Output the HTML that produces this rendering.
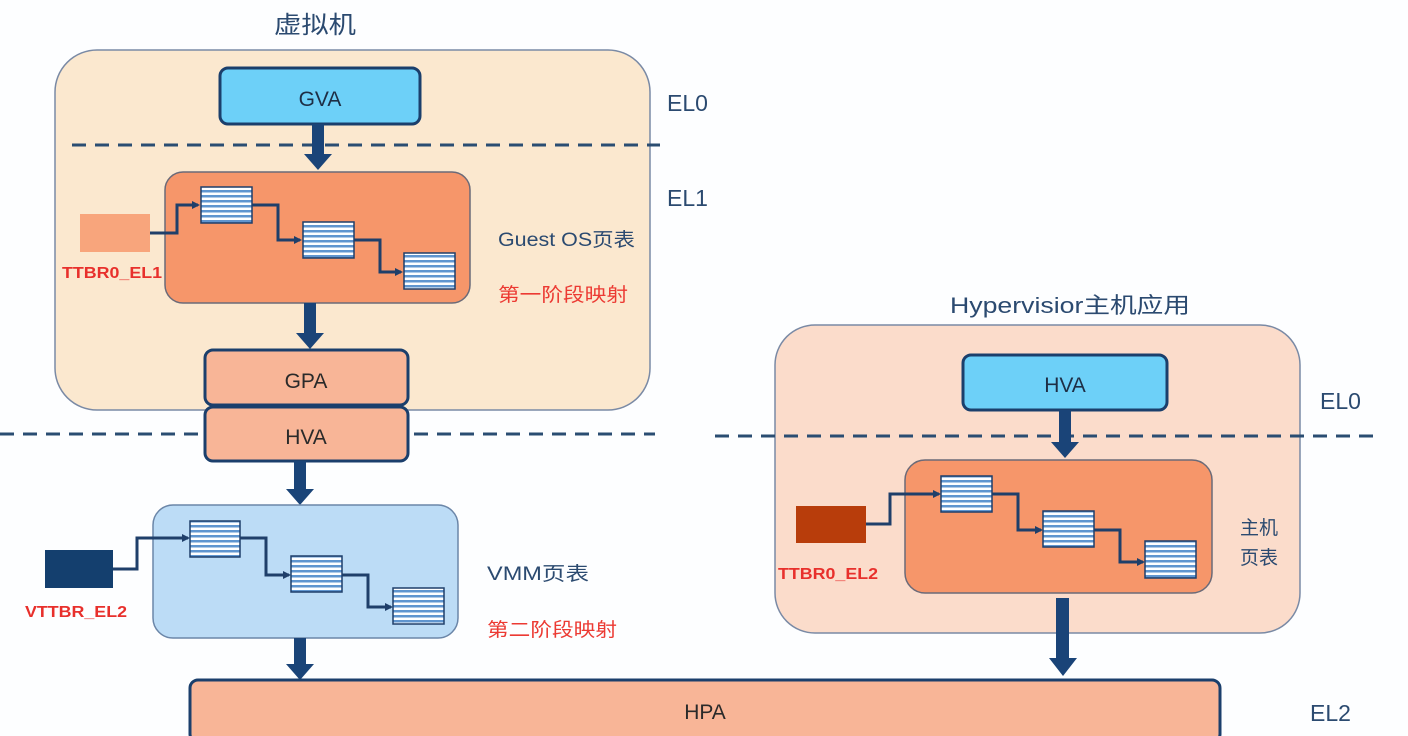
<!DOCTYPE html>
<html><head><meta charset="utf-8"><style>
body{margin:0;background:#fff;}
svg{display:block;}
text{font-family:"Liberation Sans","Noto Sans CJK SC",sans-serif;}
</style></head><body>
<svg width="1408" height="736" viewBox="0 0 1408 736" xmlns="http://www.w3.org/2000/svg">
<defs>
<pattern id="st" width="10" height="5" patternUnits="userSpaceOnUse">
<rect width="10" height="5" fill="#fff"/><rect y="0" width="10" height="2.5" fill="#5f95cf"/>
</pattern>
<marker id="ah" markerWidth="8" markerHeight="8" refX="6" refY="4" orient="auto" markerUnits="userSpaceOnUse"><path d="M0,0 L8,4 L0,8 z" fill="#1f3f6a"/></marker>
</defs>
<rect width="1408" height="736" fill="#fdfeff"/>

<!-- Guest VM -->
<text x="274" y="33" font-size="24" fill="#2b4a70" textLength="82" lengthAdjust="spacingAndGlyphs">虚拟机</text>
<rect x="55" y="50" width="595" height="360" rx="42" fill="#fbe8cf" stroke="#7a8aa5" stroke-width="1.5"/>
<rect x="220" y="68" width="200" height="56" rx="8" fill="#6dd0f8" stroke="#1b3f6c" stroke-width="3"/>
<text x="320" y="106" font-size="21" fill="#1e2e45" text-anchor="middle">GVA</text>
<line x1="72" y1="145" x2="660" y2="145" stroke="#2a4d72" stroke-width="3" stroke-dasharray="14,9"/>
<text x="667" y="111" font-size="23" fill="#2b4a70">EL0</text>
<text x="667" y="206" font-size="23" fill="#2b4a70">EL1</text>
<path d="M312,124 h12 v30 h8 l-14,16 l-14,-16 h8z" fill="#1a4478"/>
<rect x="165" y="172" width="305" height="131" rx="18" fill="#f6966a" stroke="#6b6a78" stroke-width="1.5"/>
<rect x="80" y="214" width="70" height="38" fill="#f8a57c"/>
<text x="62" y="278" font-size="16" font-weight="bold" fill="#e8302c" textLength="100" lengthAdjust="spacingAndGlyphs">TTBR0_EL1</text>
<path d="M150,233 H177 V205 H198" fill="none" stroke="#1f3f6a" stroke-width="3" marker-end="url(#ah)"/>
<path d="M252,205 H278 V240 H300" fill="none" stroke="#1f3f6a" stroke-width="3" marker-end="url(#ah)"/>
<path d="M354,240 H380 V272 H401" fill="none" stroke="#1f3f6a" stroke-width="3" marker-end="url(#ah)"/>
<rect x="201" y="187" width="51" height="36" fill="url(#st)" stroke="#1f3f6a" stroke-width="1.5"/>
<rect x="303" y="222" width="51" height="36" fill="url(#st)" stroke="#1f3f6a" stroke-width="1.5"/>
<rect x="404" y="253" width="51" height="36" fill="url(#st)" stroke="#1f3f6a" stroke-width="1.5"/>
<text x="498" y="246" font-size="19" fill="#2b4a70" textLength="137" lengthAdjust="spacingAndGlyphs">Guest OS页表</text>
<text x="498" y="301" font-size="19" fill="#ec3a33" textLength="130" lengthAdjust="spacingAndGlyphs">第一阶段映射</text>
<path d="M304,303 h12 v30 h8 l-14,16 l-14,-16 h8z" fill="#1a4478"/>

<!-- left dashed -->
<line x1="0" y1="434" x2="655" y2="434" stroke="#2a4d72" stroke-width="3" stroke-dasharray="14,9"/>

<rect x="205" y="350" width="203" height="55" rx="8" fill="#f8b597" stroke="#1b3f6c" stroke-width="3"/>
<text x="306" y="388" font-size="21" fill="#2a2a2a" text-anchor="middle">GPA</text>
<rect x="205" y="407" width="203" height="54" rx="8" fill="#f8b597" stroke="#1b3f6c" stroke-width="3"/>
<text x="306" y="444" font-size="21" fill="#2a2a2a" text-anchor="middle">HVA</text>
<path d="M294,461 h12 v28 h8 l-14,16 l-14,-16 h8z" fill="#1a4478"/>

<!-- VMM -->
<rect x="153" y="505" width="305" height="133" rx="20" fill="#bcdcf6" stroke="#6b86a8" stroke-width="1.5"/>
<rect x="45" y="550" width="68" height="38" fill="#143f6e"/>
<text x="25" y="617" font-size="16" font-weight="bold" fill="#e8302c" textLength="102" lengthAdjust="spacingAndGlyphs">VTTBR_EL2</text>
<path d="M113,569 H137 V538 H188" fill="none" stroke="#1f3f6a" stroke-width="3" marker-end="url(#ah)"/>
<path d="M240,538 H266 V575 H289" fill="none" stroke="#1f3f6a" stroke-width="3" marker-end="url(#ah)"/>
<path d="M342,575 H368 V607 H391" fill="none" stroke="#1f3f6a" stroke-width="3" marker-end="url(#ah)"/>
<rect x="190" y="521" width="50" height="36" fill="url(#st)" stroke="#1f3f6a" stroke-width="1.5"/>
<rect x="291" y="556" width="51" height="36" fill="url(#st)" stroke="#1f3f6a" stroke-width="1.5"/>
<rect x="393" y="588" width="51" height="36" fill="url(#st)" stroke="#1f3f6a" stroke-width="1.5"/>
<text x="487" y="580" font-size="19" fill="#2b4a70" textLength="102" lengthAdjust="spacingAndGlyphs">VMM页表</text>
<text x="487" y="636" font-size="19" fill="#ec3a33" textLength="130" lengthAdjust="spacingAndGlyphs">第二阶段映射</text>
<path d="M294,638 h12 v26 h8 l-14,16 l-14,-16 h8z" fill="#1a4478"/>

<!-- HPA -->
<rect x="190" y="680" width="1030" height="62" rx="8" fill="#f8b597" stroke="#1b3f6c" stroke-width="3"/>
<text x="705" y="719" font-size="21" fill="#2a2a2a" text-anchor="middle">HPA</text>
<text x="1310" y="721" font-size="23" fill="#2b4a70">EL2</text>

<!-- Host -->
<text x="950" y="313" font-size="22" fill="#2b4a70" textLength="240" lengthAdjust="spacingAndGlyphs">Hypervisior主机应用</text>
<rect x="775" y="325" width="525" height="308" rx="40" fill="#fbdccb" stroke="#7a8aa5" stroke-width="1.5"/>
<line x1="715" y1="436" x2="1380" y2="436" stroke="#2a4d72" stroke-width="3" stroke-dasharray="14,9"/>
<rect x="963" y="355" width="204" height="55" rx="8" fill="#6dd0f8" stroke="#1b3f6c" stroke-width="3"/>
<text x="1065" y="392" font-size="21" fill="#1e2e45" text-anchor="middle">HVA</text>
<text x="1320" y="409" font-size="23" fill="#2b4a70">EL0</text>
<path d="M1059,410 h12 v32 h8 l-14,16 l-14,-16 h8z" fill="#1a4478"/>
<rect x="905" y="460" width="307" height="133" rx="20" fill="#f6966a" stroke="#6b6a78" stroke-width="1.5"/>
<rect x="796" y="506" width="70" height="37" fill="#b83d0b"/>
<text x="778" y="579" font-size="16" font-weight="bold" fill="#e8302c" textLength="100" lengthAdjust="spacingAndGlyphs">TTBR0_EL2</text>
<path d="M866,524 H890 V494 H939" fill="none" stroke="#1f3f6a" stroke-width="3" marker-end="url(#ah)"/>
<path d="M992,494 H1018 V530 H1041" fill="none" stroke="#1f3f6a" stroke-width="3" marker-end="url(#ah)"/>
<path d="M1094,530 H1120 V562 H1143" fill="none" stroke="#1f3f6a" stroke-width="3" marker-end="url(#ah)"/>
<rect x="941" y="476" width="51" height="36" fill="url(#st)" stroke="#1f3f6a" stroke-width="1.5"/>
<rect x="1043" y="511" width="51" height="36" fill="url(#st)" stroke="#1f3f6a" stroke-width="1.5"/>
<rect x="1145" y="541" width="51" height="37" fill="url(#st)" stroke="#1f3f6a" stroke-width="1.5"/>
<text x="1240" y="534" font-size="19" fill="#2b4a70">主机</text>
<text x="1240" y="564" font-size="19" fill="#2b4a70">页表</text>
<path d="M1056,598 h13 v60 h8 l-14,18 l-14,-18 h7z" fill="#1a4478"/>
</svg>
</body></html>
